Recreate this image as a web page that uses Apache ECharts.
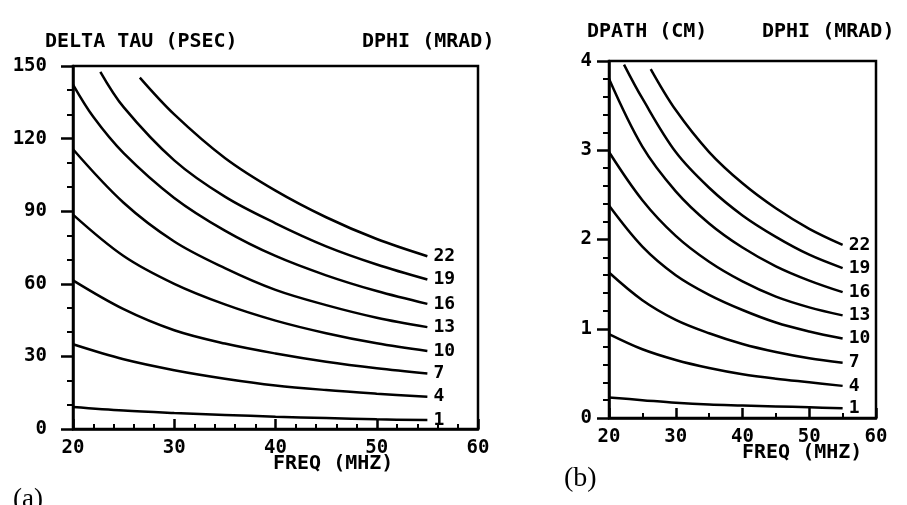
<!DOCTYPE html>
<html>
<head>
<meta charset="utf-8">
<script src="https://cdn.jsdelivr.net/npm/echarts@6/dist/echarts.min.js"></script>
<style>
html,body{margin:0;padding:0;background:#fff;}
#c{width:907px;height:505px;}
</style>
</head>
<body>
<div id="c"></div>
<script>
// ---- data ----
const dphiLevels = ['1', '4', '7', '10', '13', '16', '19', '22'];
const xTicks = [20, 30, 40, 50, 60];

// panel (a): DELTA TAU (PSEC) vs FREQ (MHZ)
const freqA1  = [20, 25, 30, 35, 40, 45, 50, 55];
const tauA1   = [9.1, 7.6, 6.6, 5.8, 5.1, 4.5, 4.0, 3.7];
const freqA4  = [20, 25, 30, 35, 40, 45, 50, 55];
const tauA4   = [35.0, 28.8, 24.3, 20.8, 18.0, 16.1, 14.6, 13.3];
const freqA7  = [20, 25, 30, 35, 40, 45, 50, 55];
const tauA7   = [61.4, 49.5, 40.8, 35.3, 31.2, 27.8, 25.1, 22.9];
const freqA10 = [20, 25, 30, 35, 40, 45, 50, 55];
const tauA10  = [88.6, 71.5, 60.0, 51.5, 44.8, 39.6, 35.4, 32.2];
const freqA13 = [20, 25, 30, 35, 40, 45, 50, 55];
const tauA13  = [115.6, 93.5, 77.5, 66.5, 57.5, 51.2, 46.0, 42.1];
const freqA16 = [20, 22, 25, 30, 35, 40, 45, 50, 55];
const tauA16  = [142.3, 129, 114, 95.5, 82, 71.5, 63.5, 57, 51.7];
const freqA19 = [22.7, 25, 30, 35, 40, 45, 50, 55];
const tauA19  = [147.6, 133, 111, 96, 85, 75.5, 68, 61.8];
const freqA22 = [26.6, 30, 35, 40, 45, 50, 55];
const tauA22  = [145.2, 130, 112, 98.5, 87.5, 78.5, 71.4];

// panel (b): DPATH (CM) vs FREQ (MHZ)
const freqB1  = [20, 25, 30, 35, 40, 45, 50, 55];
const pathB1  = [0.23, 0.20, 0.17, 0.15, 0.14, 0.13, 0.12, 0.11];
const freqB4  = [20, 25, 30, 35, 40, 45, 50, 55];
const pathB4  = [0.94, 0.77, 0.65, 0.56, 0.49, 0.44, 0.40, 0.36];
const freqB7  = [20, 25, 30, 35, 40, 45, 50, 55];
const pathB7  = [1.63, 1.32, 1.10, 0.95, 0.83, 0.74, 0.67, 0.62];
const freqB10 = [20, 25, 30, 35, 40, 45, 50, 55];
const pathB10 = [2.38, 1.92, 1.60, 1.38, 1.21, 1.07, 0.97, 0.89];
const freqB13 = [20, 25, 30, 35, 40, 45, 50, 55];
const pathB13 = [2.98, 2.44, 2.04, 1.75, 1.53, 1.36, 1.24, 1.15];
const freqB16 = [20, 25, 30, 35, 40, 45, 50, 55];
const pathB16 = [3.80, 3.04, 2.54, 2.18, 1.91, 1.70, 1.54, 1.41];
const freqB19 = [22.25, 25, 30, 35, 40, 45, 50, 55];
const pathB19 = [3.96, 3.58, 2.98, 2.58, 2.27, 2.03, 1.83, 1.68];
const freqB22 = [26.25, 30, 35, 40, 45, 50, 55];
const pathB22 = [3.91, 3.45, 2.98, 2.63, 2.35, 2.12, 1.94];

const curvesA = [[freqA1, tauA1], [freqA4, tauA4], [freqA7, tauA7], [freqA10, tauA10],
                 [freqA13, tauA13], [freqA16, tauA16], [freqA19, tauA19], [freqA22, tauA22]];
const curvesB = [[freqB1, pathB1], [freqB4, pathB4], [freqB7, pathB7], [freqB10, pathB10],
                 [freqB13, pathB13], [freqB16, pathB16], [freqB19, pathB19], [freqB22, pathB22]];

// ---- styling ----
const MONO = '"DejaVu Sans Mono", monospace';
const INK = '#000';

function pairs(xs, ys) { return xs.map((x, i) => [x, ys[i]]); }

function makeSeries(curves, xIdx, yIdx) {
  return curves.map((c, i) => ({
    type: 'line',
    name: dphiLevels[i],
    xAxisIndex: xIdx,
    yAxisIndex: yIdx,
    data: pairs(c[0], c[1]),
    showSymbol: false,
    symbol: 'none',
    smooth: 0.35,
    lineStyle: { color: INK, width: 2.5 },
    endLabel: {
      show: true,
      formatter: p => p.seriesName,
      distance: 6,
      color: INK,
      fontFamily: MONO,
      fontWeight: 'bold',
      fontSize: 18
    },
    silent: true,
    animation: false
  }));
}

function xMain(grid, split) {
  return {
    type: 'value', gridIndex: grid, position: 'bottom',
    min: 20, max: 60, interval: 10,
    axisLine: { show: true, lineStyle: { color: INK, width: 2.5 } },
    axisTick: { show: true, inside: true, length: 10, lineStyle: { color: INK, width: 2.5 } },
    minorTick: { show: true, splitNumber: split, length: 5, lineStyle: { color: INK, width: 2 } },
    axisLabel: { show: true, margin: 10, color: INK, fontFamily: MONO, fontWeight: 'bold', fontSize: 19,
                 formatter: v => xTicks.indexOf(v) >= 0 ? String(v) : '' },
    splitLine: { show: false }
  };
}
function yMain(grid, max, interval, split, margin) {
  return {
    type: 'value', gridIndex: grid, position: 'left',
    min: 0, max: max, interval: interval,
    axisLine: { show: true, lineStyle: { color: INK, width: 2.5 } },
    axisTick: { show: true, inside: false, length: 12, lineStyle: { color: INK, width: 2.5 } },
    minorTick: { show: true, splitNumber: split, length: 6, lineStyle: { color: INK, width: 2 } },
    axisLabel: { show: true, margin: margin, color: INK, fontFamily: MONO, fontWeight: 'bold', fontSize: 19 },
    splitLine: { show: false }
  };
}

function txt(x, y, s, size, family, align) {
  return {
    type: 'text', x: x, y: y, silent: true,
    style: { text: s, fill: INK, fontFamily: family || MONO, fontWeight: family ? 'normal' : 'bold',
             fontSize: size || 18, align: align || 'left', verticalAlign: 'middle' }
  };
}

const chart = echarts.init(document.getElementById('c'), null, { renderer: 'canvas' });
chart.setOption({
  animation: false,
  backgroundColor: '#fff',
  grid: [
    { left: 73, top: 66, width: 405, height: 363, show: true, borderColor: INK, borderWidth: 2.5, containLabel: false },
    { left: 609, top: 61, width: 267, height: 357, show: true, borderColor: INK, borderWidth: 2.5, containLabel: false }
  ],
  xAxis: [xMain(0, 5), xMain(1, 2)],
  yAxis: [yMain(0, 150, 30, 3, 26), yMain(1, 4, 1, 5, 17)],
  series: makeSeries(curvesA, 0, 0).concat(makeSeries(curvesB, 1, 1)),
  graphic: [
    txt(45, 42, 'DELTA TAU (PSEC)', 20),
    txt(362, 42, 'DPHI (MRAD)', 20),
    txt(273, 464, 'FREQ (MHZ)', 20),
    txt(13, 500, '(a)', 27, '"Liberation Serif", serif'),
    txt(587, 32, 'DPATH (CM)', 20),
    txt(762, 32, 'DPHI (MRAD)', 20),
    txt(742, 453, 'FREQ (MHZ)', 20),
    txt(564, 479, '(b)', 28, '"Liberation Serif", serif')
  ]
});
</script>
</body>
</html>
